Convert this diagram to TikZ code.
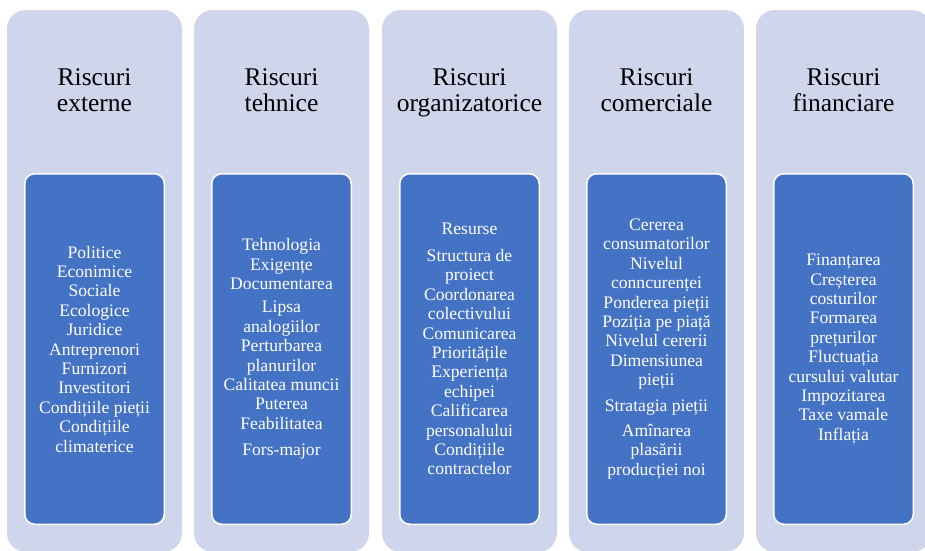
\documentclass[tikz,border=0pt]{standalone}
\usepackage{fontspec}
\setmainfont{Liberation Serif}
\definecolor{lav}{HTML}{CFD5EA}
\definecolor{riskblue}{HTML}{4472C4}
\tikzset{
  outerbox/.style={fill=lav, draw=none, rounded corners=19pt, minimum width=175pt, minimum height=542pt, inner sep=0pt},
  titletext/.style={font=\fontsize{25.5}{26}\selectfont, align=center, text=black, inner sep=0pt},
  itembox/.style={fill=riskblue, draw=white, line width=1.5pt, rounded corners=10pt, minimum width=139.5pt, minimum height=350.5pt, align=center, text=white, font=\fontsize{17.6}{19.4}\selectfont, inner sep=2pt},
}
\begin{document}
\begin{tikzpicture}[x=1pt,y=-1pt]
\useasboundingbox (0,0) rectangle (925,550);
% outer lavender columns
\node[outerbox] (o1) at (94.5,281) {};
\node[outerbox] (o2) at (281.5,281) {};
\node[outerbox] (o3) at (469.5,281) {};
\node[outerbox] (o4) at (656.5,281) {};
\node[outerbox] (o5) at (843.5,281) {};
% titles
\node[titletext] (t1) at (94.5,93.5) {\strut Riscuri\\externe\strut};
\node[titletext] (t2) at (281.5,93.5) {\strut Riscuri\\tehnice\strut};
\node[titletext] (t3) at (469.5,93.5) {\strut Riscuri\\organizatorice\strut};
\node[titletext] (t4) at (656.5,93.5) {\strut Riscuri\\comerciale\strut};
\node[titletext] (t5) at (843.5,93.5) {\strut Riscuri\\financiare\strut};
% blue boxes
\node[itembox] (b1) at (94.5,349) {Politice\\Econimice\\Sociale\\Ecologice\\Juridice\\Antreprenori\\Furnizori\\Investitori\\Condițiile pieții\\Condițiile\\climaterice};
\node[itembox] (b2) at (281.5,349) {Tehnologia\\Exigențe\\Documentarea\\[4pt]Lipsa\\analogiilor\\Perturbarea\\planurilor\\Calitatea muncii\\Puterea\\Feabilitatea\\[7pt]Fors-major};
\node[itembox] (b3) at (469.5,349) {Resurse\\[7.5pt]Structura de\\proiect\\Coordonarea\\colectivului\\Comunicarea\\Prioritățile\\Experiența\\echipei\\Calificarea\\personalului\\Condițiile\\contractelor};
\node[itembox] (b4) at (656.5,349) {Cererea\\consumatorilor\\Nivelul\\conncurenței\\Ponderea pieții\\Poziția pe piață\\Nivelul cererii\\Dimensiunea\\pieții\\[6pt]Stratagia pieții\\[6pt]Amînarea\\plasării\\producției  noi};
\node[itembox] (b5) at (843.5,349) {Finanțarea\\Creșterea\\costurilor\\Formarea\\prețurilor\\Fluctuația\\cursului valutar\\Impozitarea\\Taxe vamale\\Inflația};
\end{tikzpicture}
\end{document}
